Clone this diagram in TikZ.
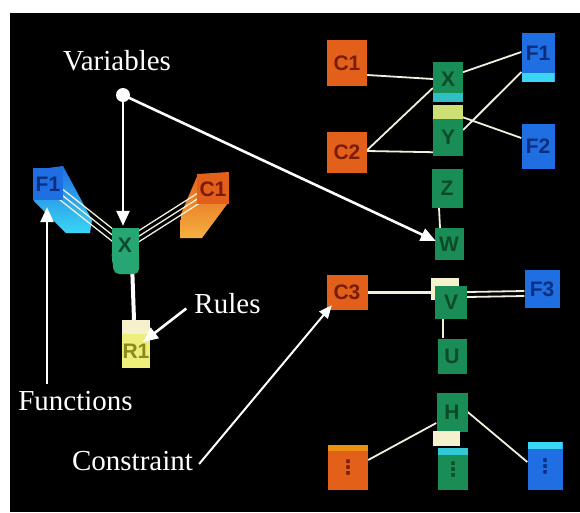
\documentclass[tikz,border=0pt]{standalone}
\usepackage{fontspec}
\setmainfont{Liberation Serif}
\newfontfamily\boxfont{Liberation Sans}
\newfontfamily\symfont{DejaVu Sans}
\usetikzlibrary{arrows.meta,calc}
\pgfdeclarelayer{bg}
\pgfdeclarelayer{lines}
\pgfsetlayers{bg,lines,main}
\definecolor{cOr}{HTML}{E2601A}
\definecolor{cOrT}{HTML}{7A1C06}
\definecolor{cBl}{HTML}{1F6FE2}
\definecolor{cBlT}{HTML}{0C2E80}
\definecolor{cCy}{HTML}{3AD6F4}
\definecolor{cGr}{HTML}{1A8C55}
\definecolor{cGrL}{HTML}{25A673}
\definecolor{cGrT}{HTML}{0B4A2B}
\definecolor{cYe}{HTML}{EEEE7A}
\definecolor{cYeT}{HTML}{8A8A1E}
\definecolor{cPale}{HTML}{F4F1CC}
\definecolor{cLine}{HTML}{F1EFDD}
\definecolor{cGold}{HTML}{F5B040}
\begin{document}
\begin{tikzpicture}[x=1pt,y=-1pt,
  box/.style 2 args={draw=none, inner sep=0pt, minimum width=#1pt, minimum height=#2pt,
    font=\boxfont\bfseries\fontsize{21}{21}\selectfont, text height=15pt, text depth=0pt},
  ob/.style={fill=cOr, text=cOrT},
  bb/.style={fill=cBl, text=cBlT},
  gb/.style={fill=cGr, text=cGrT},
  yb/.style={fill=cYe, text=cYeT},
  dots/.style={font=\symfont\bfseries\fontsize{20}{20}\selectfont},
  botband/.style 2 args={path picture={\fill[#1] ([yshift=#2]path picture bounding box.south west) rectangle (path picture bounding box.south east);}},
  topband/.style 2 args={path picture={\fill[#1] ([yshift=-#2]path picture bounding box.north west) rectangle (path picture bounding box.north east);}},
  ann/.style={draw=white, line width=2.6pt, -{Triangle[length=15pt,width=13pt]}},
  annthin/.style={draw=white, line width=2pt, -{Triangle[length=13pt,width=11pt]}},
  txt/.style={text=white, font=\fontsize{29}{33}\selectfont, inner sep=0pt},
  wl/.style={draw=cLine, line width=1.8pt},
  wlt/.style={draw=cLine, line width=1.3pt},
]
\useasboundingbox (0,0) rectangle (580,512);
\begin{pgfonlayer}{bg}
  \fill[white] (0,0) rectangle (580,512);
  \fill[black] (10,13) rectangle (580,512);
  % extruded left blocks
  \shade[top color=cBl, bottom color=cCy] (33,170) -- (63,166) -- (92,220) -- (90,233) -- (66,233) -- (34,201) -- cycle;
  \shade[top color=cOr, bottom color=cGold] (198,174) -- (229,172) -- (228,203) -- (202,238) -- (180,238) -- (181,214) -- cycle;
\end{pgfonlayer}

% ---------- right group ----------
\node[box={40}{46}, ob] (rC1) at (347,63) {C1};
\node[box={40}{41}, ob] (rC2) at (347,152) {C2};
\node[box={30}{40}, gb, botband={cCy!70!cGr}{9pt}, text depth=6pt] (rX) at (448,82) {X};
\node[box={30}{11}, fill=cYe!85!cGr] (ryel) at (448,112) {};
\node[box={30}{37}, gb] (rY) at (448,137) {Y};
\node[box={33}{49}, bb, botband={cCy}{9pt}, text depth=9pt] (rF1) at (538,57) {F1};
\node[box={33}{45}, bb] (rF2) at (538,146) {F2};
\node[box={31}{39}, gb] (rZ) at (447,188) {Z};
\node[box={29}{32}, gb] (rW) at (449,244) {W};
\node[box={41}{35}, ob] (rC3) at (347,292) {C3};
\fill[cPale] (431,278) rectangle (459,300);
\node[box={32}{33}, gb] (rV) at (451,302) {V};
\node[box={35}{38}, bb] (rF3) at (542,289) {F3};
\node[box={29}{35}, gb] (rU) at (452,356) {U};
\node[box={31}{39}, gb] (rH) at (452,412) {H};
\node[box={27}{13}, fill=cPale] (rpale) at (446,438) {};
\node[box={40}{45}, ob, topband={cOr!70!yellow}{6pt}, dots] (rB1) at (348,467) {⋮};
\node[box={30}{42}, gb, topband={cCy!80!cGr}{7pt}, dots] (rB2) at (453,469) {⋮};
\node[box={35}{48}, bb, topband={cCy}{7pt}, dots] (rB3) at (545,466) {⋮};

% ---------- left group ----------
\node[box={30}{32}, bb] (lF1) at (48,184) {F1};
\node[box={32}{30}, ob] (lC1) at (213,189) {C1};
\fill[cGrL, rounded corners=5pt] (111,250) -- (139,250) -- (139,274) -- (114,274) -- cycle;
\node[box={27}{34}, fill=cGrL, text=cGrT] (lX) at (125,245) {X};
\node[box={28}{48}, yb, topband={cPale}{14pt}, text height=29pt] (lR1) at (136,344) {R1};

% ---------- connectors between blocks ----------
\begin{pgfonlayer}{lines}
  \draw[wlt] (lX.center) -- (lF1.center);
  \draw[wlt] ([xshift=3pt,yshift=4pt]lX.center) -- ([xshift=3pt,yshift=4pt]lF1.center);
  \draw[wlt] ([xshift=-3pt,yshift=-4pt]lX.center) -- ([xshift=-3pt,yshift=-4pt]lF1.center);
  \draw[wlt] (lX.center) -- (lC1.center);
  \draw[wlt] ([xshift=2.5pt,yshift=-4pt]lX.center) -- ([xshift=2.5pt,yshift=-4pt]lC1.center);
  \draw[wlt] ([xshift=-2.5pt,yshift=4pt]lX.center) -- ([xshift=-2.5pt,yshift=4pt]lC1.center);
  \draw[white, line width=4pt] ([xshift=7pt]lX.south) -- ([xshift=-2pt]lR1.north);

  \draw[wl] ([yshift=-12pt]rC1.east) -- ([yshift=3pt]rX.west);
  \draw[wl] ([yshift=2pt]rC2.east) -- ([yshift=-6pt]rX.west);
  \draw[wl] ([yshift=1pt]rC2.east) -- ([yshift=3.5pt]rY.south west);
  \draw[wl] ([xshift=4pt,yshift=6pt]rX.center) -- ([yshift=5pt]rF1.west);
  \draw[wl] ([yshift=7pt]rY.east) -- ([yshift=-15pt]rF1.west);
  \draw[wl] (ryel.center) -- ([yshift=8pt]rF2.west);
  \draw[wl] ([xshift=-8pt]rZ.south) -- ([xshift=-9pt]rW.north);
  \draw[cLine, line width=3pt] (rC3.east) -- ([yshift=10pt]rV.west);
  \draw[wl] ([yshift=10pt]rV.east) -- ([yshift=-2pt]rF3.west);
  \draw[wl] ([yshift=5pt]rV.east) -- ([yshift=-7pt]rF3.west);
  \draw[wl] ([xshift=-8pt]rV.south) -- ([xshift=-9pt]rU.north);
  \draw[wl] ([yshift=-11pt]rH.west) -- ([yshift=7pt]rB1.east);
  \draw[wl] (rH.east) -- ([yshift=4pt]rB3.west);
\end{pgfonlayer}

% ---------- annotations ----------
\node[txt] (vtxt) at (117,61) {Variables};
\node[circle, fill=white, inner sep=0pt, minimum size=14pt] (vdot) at (123,95) {};
\draw[ann] (vdot.center) -- ([xshift=-2pt,yshift=2pt]lX.north);
\draw[ann] (vdot.center) -- ([xshift=1.5pt,yshift=3pt]rW.west);

\node[txt] (ftxt) at (75.5,401) {Functions};
\draw[ann] ([xshift=-28.5pt,yshift=7pt]ftxt.north) -- ([xshift=-1pt,yshift=-7pt]lF1.south);

\node[txt] (rtxt) at (227.5,303.5) {Rules};
\draw[ann] ([xshift=-8pt,yshift=-5pt]rtxt.west) -- ([xshift=7pt,yshift=2pt]lR1.center);

\node[txt] (ctxt) at (132.5,461) {Constraint};
\draw[annthin] ([xshift=6pt,yshift=-3pt]ctxt.east) -- ([xshift=5.5pt,yshift=4.5pt]rC3.south west);
\end{tikzpicture}
\end{document}
